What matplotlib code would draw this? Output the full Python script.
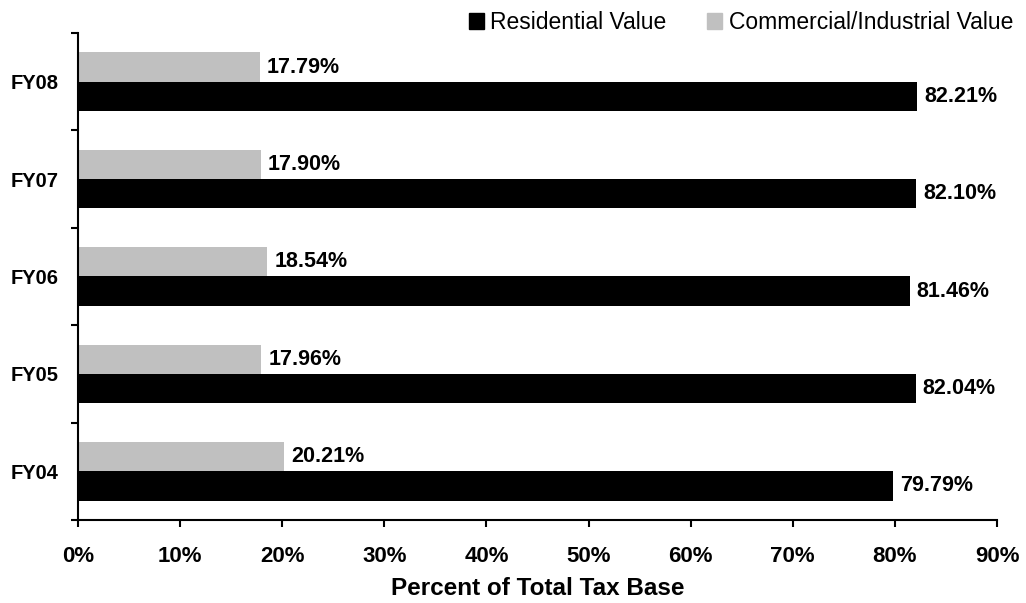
import matplotlib
matplotlib.use("Agg")
import matplotlib.pyplot as plt
from matplotlib.patches import Patch
import numpy as np

categories = ["FY04", "FY05", "FY06", "FY07", "FY08"]
residential = [79.79, 82.04, 81.46, 82.10, 82.21]
commercial = [20.21, 17.96, 18.54, 17.90, 17.79]
xticks = [0, 10, 20, 30, 40, 50, 60, 70, 80, 90]

plt.rcParams['font.family'] = ['Liberation Sans', 'DejaVu Sans']

fig = plt.figure(figsize=(10.26, 6.03), dpi=100)
ax = fig.add_axes([78/1026, 1-520/603, (997-78)/1026, (520-33)/603])

y = np.arange(len(categories))
h = 0.3
ax.barh(y - h/2, residential, height=h, color="black", label="Residential Value")
ax.barh(y + h/2, commercial, height=h, color="#C0C0C0", label="Commercial/Industrial Value")

for yi, v in zip(y, residential):
    ax.annotate(f"{v:.2f}%", (v, yi - h/2), xytext=(5, 0), textcoords="offset points",
                va="center", ha="left", fontsize=15.5, fontweight="bold")
for yi, v in zip(y, commercial):
    ax.annotate(f"{v:.2f}%", (v, yi + h/2), xytext=(5, 0), textcoords="offset points",
                va="center", ha="left", fontsize=15.5, fontweight="bold")

ax.set_xlim(0, 90)
ax.set_ylim(-0.5, len(categories) - 0.5)
ax.set_xticks(xticks)
ax.set_xticklabels([f"{t}%" for t in xticks], fontsize=16, fontweight="bold")
ax.set_yticks(np.arange(-0.5, len(categories), 1.0))
ax.set_yticklabels([])
ax.set_yticks(y, minor=True)
ax.set_yticklabels(categories, minor=True, fontsize=14.5, fontweight="bold")
ax.tick_params(axis="y", which="minor", length=0, pad=14)
ax.tick_params(axis="y", which="major", length=5, width=1.5, direction="out")
ax.tick_params(axis="x", which="major", length=5, width=1.5, direction="out", pad=14)
for s in ["top", "right"]:
    ax.spines[s].set_visible(False)
for s in ["left", "bottom"]:
    ax.spines[s].set_linewidth(1.5)

ax.set_xlabel("Percent of Total Tax Base", fontsize=17.5, fontweight="bold", labelpad=7)

handles = [Patch(color="black", label="Residential Value"),
           Patch(color="#C0C0C0", label="Commercial/Industrial Value")]
fig.legend(handles=handles, loc="upper right", bbox_to_anchor=(1013/1026, 1 - 11/603), ncol=2,
           frameon=False, fontsize=16.5, handlelength=0.66, handleheight=0.66,
           handletextpad=0.27, columnspacing=1.8, borderpad=0, borderaxespad=0)

fig.savefig("out.png", dpi=100)
